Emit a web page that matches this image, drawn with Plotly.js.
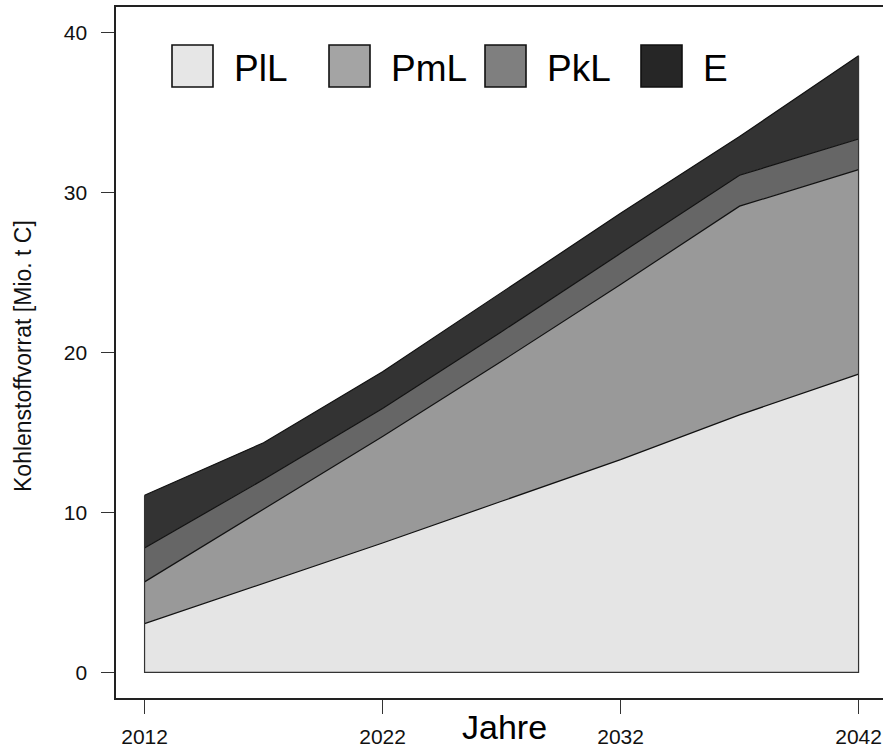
<!DOCTYPE html>
<html>
<head>
<meta charset="utf-8">
<script src="https://cdn.plot.ly/plotly-3.0.1.min.js"></script>
<style>html,body{margin:0;padding:0;background:#fff;}#chart{width:883px;height:750px;}</style>
</head>
<body>
<div id="chart"></div>
<script>
// ---- data ----
const years = [2012, 2017, 2022, 2027, 2032, 2037, 2042];
const seriesNames = ["PlL", "PmL", "PkL", "E"];
const PlL = [3.05, 5.57, 8.09, 10.70, 13.30, 16.10, 18.65];
const PmL = [2.61, 4.61, 6.66, 8.75, 10.95, 13.05, 12.78];
const PkL = [2.12, 1.88, 1.75, 1.85, 1.95, 1.93, 1.92];
const E   = [3.30, 2.30, 2.30, 2.45, 2.50, 2.42, 5.20];
const xTicks = [2012, 2022, 2032, 2042];
const yTicks = [0, 10, 20, 30, 40];

// ---- styling ----
const areaColors = ["#e5e5e5", "#999999", "#666666", "#333333"];
const legendColors = ["#e6e6e6", "#a4a4a4", "#7f7f7f", "#262626"];
const FONT = "Liberation Sans, Arial, Helvetica, sans-serif";

const W = 883, H = 750;
const M = {l: 116, r: 0, t: 7, b: 52};
const plotW = W - M.l - M.r, plotH = H - M.t - M.b;
const px2x = p => (p - M.l) / plotW;
const px2y = p => 1 - (p - M.t) / plotH;

const seriesData = [PlL, PmL, PkL, E];
const traces = seriesData.map((vals, i) => ({
  type: "scatter",
  mode: "lines",
  x: years,
  y: vals,
  name: seriesNames[i],
  stackgroup: "one",
  fillcolor: areaColors[i],
  line: {color: "#111111", width: 1.2, shape: "linear"},
  hoverinfo: "skip"
}));

// polygon outline: left edge, bottom, right edge
const totals = years.map((_, k) => seriesData.reduce((s, arr) => s + arr[k], 0));
const n = years.length - 1;
traces.push({
  type: "scatter", mode: "lines",
  x: [years[0], years[0], years[n], years[n]],
  y: [totals[0], 0, 0, totals[n]],
  line: {color: "#333333", width: 1.2},
  hoverinfo: "skip", showlegend: false
});

// manual legend (layout only)
const legendBoxLeft = [172, 329, 485, 641];
const boxW = 41, boxTop = 45, boxBot = 87, textGap = 19, legendFont = 37;
const shapes = [];
const annotations = [];
seriesNames.forEach((nm, i) => {
  const bx = legendBoxLeft[i];
  shapes.push({
    type: "rect", xref: "paper", yref: "paper",
    x0: px2x(bx), x1: px2x(bx + boxW), y0: px2y(boxBot), y1: px2y(boxTop),
    fillcolor: legendColors[i], line: {color: "#111111", width: 1.6}, layer: "above"
  });
  annotations.push({
    xref: "paper", yref: "paper", x: px2x(bx + boxW + textGap), y: px2y((boxTop + boxBot) / 2 + 2),
    xanchor: "left", yanchor: "middle", showarrow: false,
    text: nm, font: {family: FONT, size: legendFont, color: "#000"}
  });
});
// axis titles
annotations.push({
  xref: "paper", yref: "paper", x: px2x(504.5), y: px2y(727),
  xanchor: "center", yanchor: "middle", showarrow: false,
  text: "Jahre", font: {family: FONT, size: 34, color: "#000"}
});
annotations.push({
  xref: "paper", yref: "paper", x: px2x(23), y: px2y(356),
  xanchor: "center", yanchor: "middle", showarrow: false, textangle: -90,
  text: "Kohlenstoffvorrat [Mio. t C]", font: {family: FONT, size: 23, color: "#111"}
});

const layout = {
  width: W, height: H,
  margin: M,
  paper_bgcolor: "#ffffff", plot_bgcolor: "#ffffff",
  showlegend: false,
  hovermode: false,
  font: {family: FONT, color: "#111"},
  xaxis: {
    range: [2010.8, 2010.8 + plotW / 23.8],
    tickmode: "array", tickvals: xTicks, ticktext: xTicks.map(String),
    ticks: "outside", ticklen: 14, tickwidth: 1.3, tickcolor: "#333",
    ticklabelstandoff: 5,
    tickfont: {family: FONT, size: 21, color: "#111"},
    showgrid: false, zeroline: false,
    showline: true, linecolor: "#222", linewidth: 1.6, mirror: true
  },
  yaxis: {
    range: [-1.6, 41.6],
    tickmode: "array", tickvals: yTicks, ticktext: yTicks.map(String),
    ticks: "outside", ticklen: 13, tickwidth: 1.3, tickcolor: "#333",
    ticklabelstandoff: 10,
    tickfont: {family: FONT, size: 21, color: "#111"},
    showgrid: false, zeroline: false,
    showline: true, linecolor: "#222", linewidth: 1.6, mirror: false
  },
  shapes: shapes,
  annotations: annotations
};

Plotly.newPlot("chart", traces, layout, {staticPlot: true, displayModeBar: false});
</script>
</body>
</html>
